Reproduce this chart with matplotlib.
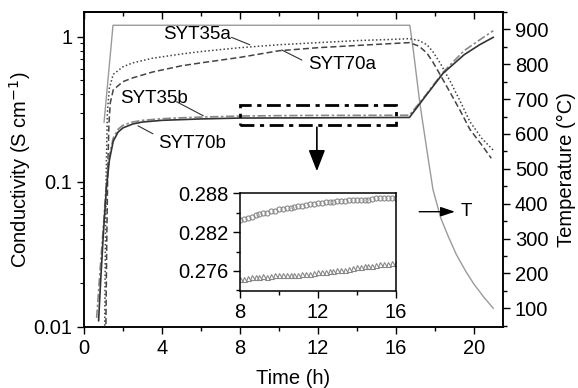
import numpy as np
import matplotlib

matplotlib.use("Agg")
import matplotlib.pyplot as plt
from matplotlib.patches import Rectangle
from matplotlib.ticker import FixedLocator, FixedFormatter, MultipleLocator, LogLocator, NullFormatter

plt.rcParams["font.family"] = ["Liberation Sans", "DejaVu Sans"]
plt.rcParams["font.size"] = 14.5

# temperature programme (right axis)
t_temp = [1.03, 1.49, 16.72, 16.9, 17.23, 17.66, 17.91, 18.3, 18.7, 19.1, 19.6, 20.0, 20.5, 21.0]
temp = [634, 912, 912, 840, 690, 530, 440, 360, 305, 255, 205, 170, 133, 100]

# SYT35a (dotted)
t_35a = [1.06, 1.1, 1.15, 1.2, 1.3, 1.5, 2.0, 2.5, 3.5, 5, 6, 8, 10, 12, 14, 16, 16.7,
         17.2, 17.6, 17.9, 18.3, 18.8, 19.3, 19.8, 20.4, 21.0]
c_35a = [0.009, 0.04, 0.14, 0.3, 0.44, 0.55, 0.62, 0.66, 0.71, 0.76, 0.79, 0.84, 0.88, 0.91,
         0.94, 0.96, 0.97, 0.94, 0.88, 0.79, 0.65, 0.49, 0.36, 0.26, 0.2, 0.165]

# SYT70a (dashed)
t_70a = [1.12, 1.17, 1.22, 1.28, 1.35, 1.5, 2.0, 2.5, 3.5, 5, 6, 8, 10, 12, 14, 16, 16.7,
         17.2, 17.6, 17.9, 18.3, 18.8, 19.3, 19.8, 20.4, 20.9]
c_70a = [0.009, 0.04, 0.12, 0.25, 0.35, 0.43, 0.49, 0.52, 0.57, 0.63, 0.66, 0.72, 0.8, 0.84,
         0.87, 0.9, 0.91, 0.86, 0.77, 0.67, 0.54, 0.41, 0.31, 0.23, 0.18, 0.145]

# SYT35b (dash-dot)
t_35b = [0.65, 0.8, 1.0, 1.15, 1.3, 1.5, 1.75, 2.0, 2.5, 3, 4, 5, 6, 8, 10, 12, 14, 16, 16.7,
         17.5, 18.43, 19.5, 20.3, 21.0]
c_35b = [0.0115, 0.022, 0.05, 0.1, 0.15, 0.2, 0.23, 0.245, 0.258, 0.265, 0.272, 0.276, 0.279,
         0.2838, 0.2855, 0.2865, 0.2869, 0.2873, 0.2875, 0.39, 0.57, 0.8, 0.95, 1.1]

# SYT70b (solid)
t_70b = [0.75, 0.85, 1.0, 1.15, 1.3, 1.5, 1.75, 2.0, 2.5, 3, 4, 5, 6, 8, 10, 12, 14, 16, 16.7,
         17.5, 18.43, 19.5, 20.3, 21.0]
c_70b = [0.011, 0.02, 0.045, 0.09, 0.14, 0.19, 0.22, 0.235, 0.25, 0.258, 0.265, 0.268, 0.271,
         0.2748, 0.2753, 0.2758, 0.2766, 0.2772, 0.2775, 0.385, 0.56, 0.75, 0.88, 0.99]

# inset: 8-16 h, one point every 0.2 h
t_inset = [8 + 0.2 * i for i in range(41)]
c_inset_35b = [0.2838, 0.2840, 0.2842, 0.2844, 0.2846, 0.2848, 0.2849, 0.2850, 0.2852, 0.2853,
               0.2855, 0.2856, 0.2857, 0.2858, 0.2859, 0.2861, 0.2861, 0.2862, 0.2863, 0.2864,
               0.2865, 0.2865, 0.2866, 0.2866, 0.2867, 0.2868, 0.2868, 0.2868, 0.2869, 0.2869,
               0.2869, 0.2869, 0.2870, 0.2870, 0.2871, 0.2872, 0.2872, 0.2873, 0.2873, 0.2873,
               0.2873]
c_inset_70b = [0.2747, 0.2748, 0.2749, 0.2750, 0.2750, 0.2751, 0.2752, 0.2751, 0.2752, 0.2753,
               0.2753, 0.2753, 0.2753, 0.2753, 0.2754, 0.2754, 0.2755, 0.2755, 0.2756, 0.2757,
               0.2758, 0.2758, 0.2759, 0.2760, 0.2760, 0.2761, 0.2762, 0.2762, 0.2763, 0.2764,
               0.2766, 0.2766, 0.2767, 0.2768, 0.2768, 0.2769, 0.2770, 0.2771, 0.2771, 0.2772,
               0.2772]

fig = plt.figure(figsize=(5.78, 3.88), dpi=100)
ax = fig.add_axes([0.1453, 0.158, 0.7249, 0.811])
ax2 = ax.twinx()

ax2.plot(t_temp, temp, color="#9a9a9a", lw=1.0)
ax.plot(t_35a, c_35a, color="#444444", lw=1.1, ls=(0, (1, 1.5)))
ax.plot(t_70a, c_70a, color="#444444", lw=1.1, ls=(0, (4, 2)))
ax.plot(t_35b, c_35b, color="#888888", lw=1.2, ls=(0, (5, 1.5, 1.5, 1.5)))
ax.plot(t_70b, c_70b, color="#333333", lw=1.2)

ax.set_yscale("log")
ax.set_xlim(0, 21.5)
ax.set_ylim(0.01, 1.48)
ax2.set_ylim(47, 950)
ax.patch.set_visible(False)
ax2.set_zorder(0)
ax.set_zorder(1)

ax.xaxis.set_major_locator(MultipleLocator(4))
ax.xaxis.set_minor_locator(MultipleLocator(2))
ax.yaxis.set_major_locator(FixedLocator([0.01, 0.1, 1]))
ax.yaxis.set_major_formatter(FixedFormatter(["0.01", "0.1", "1"]))
ax.yaxis.set_minor_locator(LogLocator(base=10, subs=range(2, 10)))
ax.yaxis.set_minor_formatter(NullFormatter())
ax.tick_params(axis="x", which="major", direction="out", length=5, width=1)
ax.tick_params(axis="x", which="minor", direction="out", length=3, width=1)
ax.tick_params(axis="y", which="major", direction="out", length=5, width=1)
ax.tick_params(axis="y", which="minor", direction="out", length=3, width=0.8)

# top ticks point inward
top = ax.secondary_xaxis("top")
top.xaxis.set_major_locator(MultipleLocator(4))
top.xaxis.set_minor_locator(MultipleLocator(2))
top.tick_params(which="major", direction="in", length=5, width=1, labeltop=False)
top.tick_params(which="minor", direction="in", length=3, width=1)
top.spines["top"].set_linewidth(1.1)

ax2.set_yticks(range(100, 1000, 100))
ax2.yaxis.set_minor_locator(MultipleLocator(50))
ax2.tick_params(axis="y", which="major", direction="out", length=5, width=1)
ax2.tick_params(axis="y", which="minor", direction="out", length=3, width=1)
for a in (ax, ax2):
    for s in a.spines.values():
        s.set_linewidth(1.1)

ax.set_xlabel("Time (h)", labelpad=8)
ax.set_ylabel("Conductivity (S cm$^{-1}$)", labelpad=0)
ax2.set_ylabel("Temperature (°C)", labelpad=6)

# zoom box and arrow
ax.add_patch(Rectangle((8, 0.248), 8, 0.337 - 0.248, fill=False, ec="black", lw=2,
                       ls=(0, (5, 2, 1.5, 2)), zorder=5))
ax.annotate("", xy=(11.95, 0.113), xytext=(11.95, 0.248),
            arrowprops=dict(arrowstyle="-|>,head_width=0.35,head_length=0.9", color="black", lw=1.2))

leader = dict(arrowstyle="-", color="#333333", lw=0.8, shrinkA=0, shrinkB=0)
lab = dict(va="center", ha="left", fontsize=13.5)
ax.text(4.05, 1.03, "SYT35a", **lab)
ax.annotate("", xy=(8.51, 0.88), xytext=(7.57, 0.99), arrowprops=leader)
ax.text(11.49, 0.64, "SYT70a", **lab)
ax.annotate("", xy=(10.15, 0.81), xytext=(11.18, 0.69), arrowprops=leader)
ax.text(1.85, 0.375, "SYT35b", **lab)
ax.annotate("", xy=(6.12, 0.285), xytext=(4.75, 0.356), arrowprops=leader)
ax.text(3.79, 0.183, "SYT70b", **lab)
ax.annotate("", xy=(2.77, 0.243), xytext=(3.54, 0.214), arrowprops=leader)

ax2.annotate("", xy=(19.18, 377), xytext=(17.06, 377),
             arrowprops=dict(arrowstyle="-|>,head_width=0.2,head_length=0.6", color="black", lw=1))
ax2.text(19.35, 377, "T", va="center", ha="left", fontsize=13.5)

# inset
axin = fig.add_axes([0.4152, 0.25, 0.2694, 0.2518])
axin.plot(t_inset, c_inset_35b, ls="none", marker="o", ms=3.6, mfc="none", mec="#888888", mew=0.8)
axin.plot(t_inset, c_inset_70b, ls="none", marker="^", ms=3.6, mfc="none", mec="#888888", mew=0.8)
axin.set_xlim(8, 16)
axin.set_ylim(0.2729, 0.288)
axin.set_xticks([8, 12, 16])
axin.xaxis.set_minor_locator(MultipleLocator(2))
axin.set_yticks([0.276, 0.282, 0.288])
axin.set_yticklabels(["0.276", "0.282", "0.288"])
axin.yaxis.set_minor_locator(MultipleLocator(0.003))
axin.tick_params(which="major", direction="out", length=5, width=1)
axin.tick_params(which="minor", direction="out", length=3, width=1)
for s in axin.spines.values():
    s.set_linewidth(1.1)

fig.savefig("out.png", dpi=100)
